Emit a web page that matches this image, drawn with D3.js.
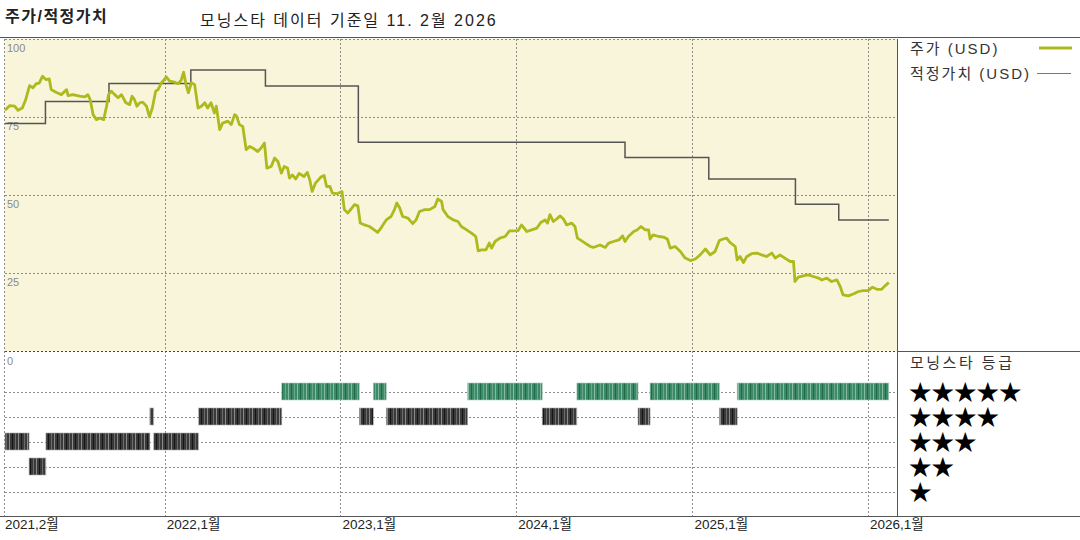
<!DOCTYPE html>
<meta charset="utf-8">
<style>
    body { margin: 0; background: #fff; }
    text { font-family: "Liberation Sans", "Noto Sans CJK KR", sans-serif; }
    .grid line { stroke: #8c8c8c; stroke-width: 1; stroke-dasharray: 2,2; shape-rendering: crispEdges; }
    .frame { stroke: #555; stroke-width: 1; shape-rendering: crispEdges; }
</style>
<body>
<script src="https://cdn.jsdelivr.net/npm/d3@7"></script>
<script>
    // price in USD
    const priceSeries = [
        ["2021-02-01",77.2],["2021-02-11",78.7],["2021-02-21",78.5],["2021-02-28",77.2],["2021-03-09",77.9],["2021-03-16",80.6],["2021-03-24",85.1],["2021-03-31",84.4],["2021-04-07",85.7],["2021-04-13",85.9],["2021-04-20",88.1],["2021-04-27",87.0],["2021-05-04",87.2],["2021-05-08",83.8],["2021-05-19",82.9],["2021-05-29",82.2],["2021-06-09",83.8],["2021-06-12",81.9],["2021-06-22",82.2],["2021-07-06",81.7],["2021-07-17",81.5],["2021-07-23",82.2],["2021-07-28",80.6],["2021-08-03",75.8],["2021-08-10",74.2],["2021-08-17",74.7],["2021-08-25",74.2],["2021-08-31",78.5],["2021-09-04",82.2],["2021-09-10",83.3],["2021-09-17",82.2],["2021-09-24",81.2],["2021-10-01",82.2],["2021-10-10",79.6],["2021-10-18",79.0],["2021-10-23",81.7],["2021-10-28",80.6],["2021-11-02",78.5],["2021-11-08",79.6],["2021-11-14",79.8],["2021-11-22",78.5],["2021-11-28",75.1],["2021-12-04",77.9],["2021-12-11",83.3],["2021-12-16",83.8],["2021-12-23",86.0],["2021-12-30",87.2],
        ["2022-01-02",87.9],["2022-01-09",86.5],["2022-01-19",86.2],["2022-01-26",85.7],["2022-02-02",86.8],["2022-02-07",89.4],["2022-02-12",85.4],["2022-02-17",82.8],["2022-02-23",86.0],["2022-03-02",85.4],["2022-03-09",77.9],["2022-03-16",78.5],["2022-03-23",79.6],["2022-03-29",77.9],["2022-04-05",79.6],["2022-04-12",76.3],["2022-04-16",78.5],["2022-04-23",71.0],["2022-04-29",73.1],["2022-05-10",73.7],["2022-05-17",72.6],["2022-05-24",75.8],["2022-05-28",75.3],["2022-06-03",72.6],["2022-06-10",72.0],["2022-06-17",64.6],["2022-06-24",65.6],["2022-07-01",65.1],["2022-07-11",64.0],["2022-07-18",65.1],["2022-07-25",66.7],["2022-07-30",58.7],["2022-08-08",59.2],["2022-08-15",61.9],["2022-08-22",60.8],["2022-08-29",57.1],["2022-09-04",59.2],["2022-09-11",58.7],["2022-09-15",55.5],["2022-09-21",56.5],["2022-09-28",55.2],["2022-10-05",57.0],["2022-10-15",56.0],["2022-10-22",57.3],["2022-10-27",55.0],["2022-11-01",51.2],["2022-11-08",53.9],["2022-11-19",55.8],["2022-11-26",56.3],["2022-12-01",52.8],["2022-12-08",52.8],["2022-12-13",50.7],["2022-12-23",50.5],
        ["2023-01-02",51.2],["2023-01-07",45.4],["2023-01-14",44.3],["2023-01-21",45.6],["2023-01-28",47.0],["2023-02-04",46.6],["2023-02-09",41.1],["2023-02-18",40.5],["2023-02-28",40.0],["2023-03-10",38.9],["2023-03-17",38.1],["2023-03-24",39.5],["2023-04-04",42.1],["2023-04-14",43.2],["2023-04-21",45.4],["2023-04-26",47.5],["2023-05-02",45.9],["2023-05-08",43.2],["2023-05-19",42.7],["2023-05-29",40.9],["2023-06-05",42.1],["2023-06-12",44.8],["2023-06-23",45.4],["2023-07-03",45.4],["2023-07-14",46.4],["2023-07-20",48.8],["2023-07-28",48.0],["2023-07-31",45.4],["2023-08-10",43.2],["2023-08-21",42.1],["2023-08-31",41.6],["2023-09-07",40.0],["2023-09-18",38.9],["2023-09-28",37.9],["2023-10-07",36.8],["2023-10-12",32.2],["2023-10-19",32.5],["2023-10-28",32.5],["2023-11-04",34.7],["2023-11-09",33.1],["2023-11-16",35.2],["2023-11-26",36.3],["2023-12-07",36.8],["2023-12-16",38.6],["2023-12-24",38.6],
        ["2024-01-03",38.7],["2024-01-10",40.5],["2024-01-21",38.4],["2024-01-31",38.9],["2024-02-11",39.5],["2024-02-19",41.3],["2024-02-28",42.1],["2024-03-04",41.1],["2024-03-09",43.8],["2024-03-16",41.6],["2024-03-23",42.4],["2024-03-30",43.4],["2024-04-06",42.4],["2024-04-13",40.5],["2024-04-23",41.1],["2024-04-30",40.0],["2024-05-05",36.3],["2024-05-11",35.7],["2024-05-21",34.7],["2024-06-01",33.6],["2024-06-07",33.3],["2024-06-21",34.1],["2024-07-02",33.3],["2024-07-09",34.7],["2024-07-19",35.2],["2024-07-30",35.7],["2024-08-07",37.0],["2024-08-12",35.2],["2024-08-19",36.8],["2024-08-30",38.4],["2024-09-06",38.9],["2024-09-14",40.0],["2024-09-23",38.9],["2024-09-30",38.9],["2024-10-03",36.0],["2024-10-09",37.3],["2024-10-21",36.8],["2024-10-31",36.6],["2024-11-08",36.0],["2024-11-14",33.1],["2024-11-24",33.6],["2024-12-05",32.0],["2024-12-15",29.9],["2024-12-26",29.1],
        ["2025-01-05",29.6],["2025-01-15",30.9],["2025-01-26",32.8],["2025-02-05",30.9],["2025-02-15",32.0],["2025-02-24",35.5],["2025-03-04",36.0],["2025-03-11",36.3],["2025-03-18",34.9],["2025-03-29",33.6],["2025-04-02",29.3],["2025-04-08",30.4],["2025-04-15",28.5],["2025-04-22",30.4],["2025-05-02",31.3],["2025-05-13",31.5],["2025-05-23",30.9],["2025-06-02",30.4],["2025-06-13",31.5],["2025-06-20",29.9],["2025-06-30",30.9],["2025-07-10",29.9],["2025-07-21",28.8],["2025-07-28",28.8],["2025-07-31",22.4],["2025-08-07",23.8],["2025-08-17",24.2],["2025-08-28",24.5],["2025-09-07",24.0],["2025-09-18",23.5],["2025-09-25",22.9],["2025-10-05",23.5],["2025-10-15",22.4],["2025-10-26",22.9],["2025-11-02",20.8],["2025-11-08",18.1],["2025-11-19",17.8],["2025-11-29",18.4],["2025-12-10",19.2],["2025-12-20",19.5],["2025-12-30",19.5],
        ["2026-01-08",20.6],["2026-01-17",19.9],["2026-01-27",19.9],["2026-02-03",21.0],["2026-02-11",22.1]
    ];

    // fair value steps (value holds from date until the next one)
    const fairValueDates = ["2021-02-01","2021-04-26","2021-09-05","2022-02-22","2022-07-27","2023-02-05","2024-08-12","2025-02-02","2025-08-01","2025-10-30","2026-02-11"];
    const fairValues = [73.0, 80.0, 85.8, 90.1, 85.0, 67.0, 62.1, 55.2, 47.1, 42.1, 42.1];

    // morningstar rating periods
    const ratingStarts = ["2021-02-01","2021-03-23","2021-04-27","2021-11-29","2021-12-07","2022-03-10","2022-08-30","2023-02-07","2023-03-08","2023-04-04","2023-09-20","2024-02-22","2024-05-04","2024-09-08","2024-10-03","2025-02-24","2025-04-02"];
    const ratingStars = [3, 2, 3, 4, 3, 4, 5, 4, 5, 4, 5, 4, 5, 4, 5, 4, 5];
    const ratingEnd = "2026-02-11";

    const xTickDates = ["2021-02-01","2022-01-01","2023-01-01","2024-01-01","2025-01-01","2026-01-01"];
    const xTickLabels = ["2021,2월","2022,1월","2023,1월","2024,1월","2025,1월","2026,1월"];
    const yTicks = [0, 25, 50, 75, 100];
    const starLevels = [5, 4, 3, 2, 1];

    const parse = d3.timeParse("%Y-%m-%d");

    const width = 1080, height = 540;
    const plotLeft = 4.5, plotRight = 897.5, plotTop = 38.5, plotMid = 351.5, plotBottom = 516.5;

    const x = d3.scaleTime()
        .domain([parse("2021-02-01"), parse("2026-02-28")])
        .range([5, 897]);

    const y = d3.scaleLinear()
        .domain([0, 100])
        .range([plotMid, 39]);

    // rating rows sit 25px apart above the bottom axis
    const yRating = d3.scaleLinear()
        .domain([0, 5])
        .range([plotBottom, plotBottom - 125]);

    const svg = d3.select("body").append("svg")
        .attr("width", width)
        .attr("height", height);

    svg.append("rect").attr("width", width).attr("height", height).attr("fill", "#fff");

    // textures for the rating bars
    const defs = svg.append("defs");
    function stripes(id, base, light, dark) {
        const p = defs.append("pattern")
            .attr("id", id)
            .attr("patternUnits", "userSpaceOnUse")
            .attr("width", 9).attr("height", 20);
        p.append("rect").attr("width", 9).attr("height", 20).attr("fill", base);
        p.append("rect").attr("x", 0).attr("width", 1).attr("height", 20).attr("fill", light);
        p.append("rect").attr("x", 3).attr("width", 1).attr("height", 20).attr("fill", dark);
        p.append("rect").attr("x", 6).attr("width", 1).attr("height", 20).attr("fill", light).attr("opacity", 0.6);
    }
    stripes("greenBars", "#3c8a68", "#88bba2", "#1f6a49");
    stripes("darkBars", "#3a3a3a", "#8a8a8a", "#151515");

    // titles
    svg.append("text")
        .attr("x", 5).attr("y", 22)
        .attr("font-size", 16).attr("font-weight", "bold")
        .attr("letter-spacing", 1.5)
        .attr("fill", "#222")
        .text("주가/적정가치");

    svg.append("text")
        .attr("x", 200).attr("y", 26)
        .attr("font-size", 16)
        .attr("letter-spacing", 2)
        .attr("fill", "#222")
        .text("모닝스타 데이터 기준일 11. 2월 2026");

    // price panel background
    svg.append("rect")
        .attr("x", plotLeft).attr("y", plotTop)
        .attr("width", plotRight - plotLeft).attr("height", plotMid - plotTop)
        .attr("fill", "#f9f5da");

    const grid = svg.append("g").attr("class", "grid");

    grid.selectAll(".hgrid")
        .data(yTicks.filter(d => d > 0))
        .join("line")
        .attr("x1", plotLeft).attr("x2", plotRight)
        .attr("y1", d => Math.round(y(d)) + 0.5)
        .attr("y2", d => Math.round(y(d)) + 0.5);

    grid.selectAll(".rgrid")
        .data(starLevels)
        .join("line")
        .attr("x1", plotLeft).attr("x2", plotRight)
        .attr("y1", d => Math.round(yRating(d)) + 0.5)
        .attr("y2", d => Math.round(yRating(d)) + 0.5);

    grid.selectAll(".vgrid")
        .data(xTickDates)
        .join("line")
        .attr("x1", d => Math.round(x(parse(d))) - 0.5)
        .attr("x2", d => Math.round(x(parse(d))) - 0.5)
        .attr("y1", plotTop).attr("y2", plotBottom);

    // zero line between the panels
    svg.append("line")
        .attr("x1", plotLeft).attr("x2", plotRight)
        .attr("y1", plotMid).attr("y2", plotMid)
        .attr("stroke", "#444").attr("stroke-dasharray", "2,2")
        .style("shape-rendering", "crispEdges");

    // frame lines
    svg.append("line").attr("class", "frame")
        .attr("x1", 0).attr("x2", width).attr("y1", 37.5).attr("y2", 37.5)
        .attr("stroke", "#999");
    svg.append("line").attr("class", "frame")
        .attr("x1", plotRight).attr("x2", plotRight).attr("y1", plotTop).attr("y2", plotBottom);
    svg.append("line").attr("class", "frame")
        .attr("x1", plotRight).attr("x2", width).attr("y1", plotMid).attr("y2", plotMid);
    svg.append("line").attr("class", "frame")
        .attr("x1", 0).attr("x2", width).attr("y1", plotBottom).attr("y2", plotBottom);

    // y labels
    svg.selectAll(".ylab")
        .data(yTicks)
        .join("text")
        .attr("x", 7)
        .attr("y", d => y(d) + 13)
        .attr("font-size", 11)
        .attr("fill", "#8a8a8a")
        .text(d => d);

    // x labels
    svg.selectAll(".xlab")
        .data(xTickDates)
        .join("text")
        .attr("x", (d, i) => i === 0 ? 5 : x(parse(d)) + 1)
        .attr("y", 529)
        .attr("font-size", 13.5)
        .attr("fill", "#222")
        .text((d, i) => xTickLabels[i]);

    // rating bars
    const ratings = ratingStarts.map((d, i) => ({
        start: parse(d),
        end: parse(i + 1 < ratingStarts.length ? ratingStarts[i + 1] : ratingEnd),
        stars: ratingStars[i]
    }));

    svg.append("g").selectAll("rect")
        .data(ratings)
        .join("rect")
        .attr("x", d => x(d.start))
        .attr("width", d => x(d.end) - x(d.start))
        .attr("y", d => yRating(d.stars) - 8.5)
        .attr("height", 17)
        .attr("fill", d => d.stars === 5 ? "url(#greenBars)" : "url(#darkBars)")
        .attr("stroke", d => d.stars === 5 ? "#a9cbb9" : "#aaa")
        .attr("stroke-width", 0.6);

    // fair value
    const fairSeries = fairValueDates.map((d, i) => ({ date: parse(d), value: fairValues[i] }));
    svg.append("path")
        .datum(fairSeries)
        .attr("fill", "none")
        .attr("stroke", "#555")
        .attr("stroke-width", 1.5)
        .attr("d", d3.line().curve(d3.curveStepAfter).x(d => x(d.date)).y(d => y(d.value)));

    // price
    const prices = priceSeries.map(d => ({ date: parse(d[0]), value: d[1] }));
    svg.append("path")
        .datum(prices)
        .attr("fill", "none")
        .attr("stroke", "#adb91d")
        .attr("stroke-width", 2.8)
        .attr("stroke-linejoin", "round")
        .attr("d", d3.line().x(d => x(d.date)).y(d => y(d.value)));

    // legend
    const legend = svg.append("g");
    legend.append("text").attr("x", 910).attr("y", 54).attr("font-size", 15)
        .attr("letter-spacing", 2).attr("fill", "#333").text("주가 (USD)");
    legend.append("line").attr("x1", 1039).attr("x2", 1072).attr("y1", 48).attr("y2", 48)
        .attr("stroke", "#adb91d").attr("stroke-width", 3);
    legend.append("text").attr("x", 910).attr("y", 79).attr("font-size", 15)
        .attr("letter-spacing", 2).attr("fill", "#333").text("적정가치 (USD)");
    legend.append("line").attr("x1", 1037).attr("x2", 1071).attr("y1", 73.5).attr("y2", 73.5)
        .attr("stroke", "#777").attr("stroke-width", 1.2);

    legend.append("text").attr("x", 910).attr("y", 368).attr("font-size", 15)
        .attr("letter-spacing", 2.5).attr("fill", "#333").text("모닝스타 등급");

    legend.selectAll(".stars")
        .data(starLevels)
        .join("text")
        .attr("x", 909)
        .attr("y", d => yRating(d) + 8)
        .attr("font-size", 22.5)
        .attr("font-family", "DejaVu Sans")
        .attr("letter-spacing", 0)
        .attr("fill", "#000")
        .text(d => "★".repeat(d));
</script>
